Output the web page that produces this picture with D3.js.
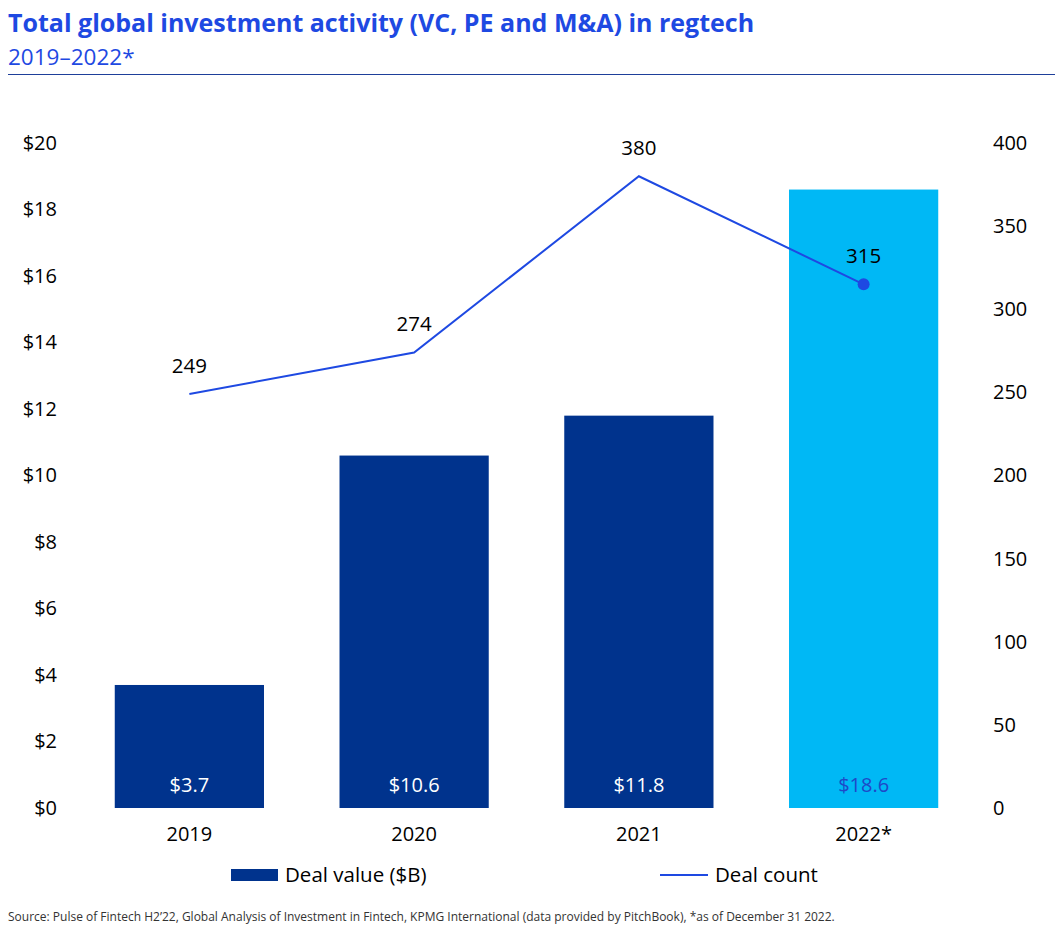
<!DOCTYPE html>
<html><head><meta charset="utf-8">
<script src="https://cdn.jsdelivr.net/npm/d3@7"></script>
<style>body{margin:0;background:#fff;font-family:"Open Sans",sans-serif;}</style>
</head><body><svg id="c" width="1062" height="935"></svg>
<script>
const years = ["2019","2020","2021","2022*"];
const dealValue = [3.7, 10.6, 11.8, 18.6];
const dealCount = [249, 274, 380, 315];
const leftTicks = [0,2,4,6,8,10,12,14,16,18,20];
const rightTicks = [0,50,100,150,200,250,300,350,400];

const svg = d3.select("#c");
const plotTop = 143, plotBottom = 808;
const x = d3.scaleBand().domain(years).range([77, 976]).paddingInner(0.336).paddingOuter(0.168);
const yL = d3.scaleLinear().domain([0,20]).range([plotBottom, plotTop]);
const yR = d3.scaleLinear().domain([0,400]).range([plotBottom, plotTop]);

svg.append("text").attr("x",8).attr("y",32).attr("fill","#1e49e2").attr("font-size",25).attr("font-weight",700).text("Total global investment activity (VC, PE and M&A) in regtech");
svg.append("text").attr("x",8).attr("y",65).attr("fill","#1e49e2").attr("font-size",22.5).text("2019–2022*");
svg.append("line").attr("x1",8).attr("x2",1055).attr("y1",74.5).attr("y2",74.5).attr("stroke","#1e3f9a").attr("stroke-width",1);

// left axis
const gL = svg.append("g").attr("transform","translate(57,0)")
  .call(d3.axisLeft(yL).tickValues(leftTicks).tickSize(0).tickPadding(0).tickFormat(d=>"$"+d));
gL.select(".domain").remove();
gL.selectAll("text").attr("font-size",20).attr("font-family","Open Sans").attr("fill","#000");
const gR = svg.append("g").attr("transform","translate(993,0)")
  .call(d3.axisRight(yR).tickValues(rightTicks).tickSize(0).tickPadding(0));
gR.select(".domain").remove();
gR.selectAll("text").attr("font-size",20).attr("font-family","Open Sans").attr("fill","#000");

// bars
svg.selectAll("rect.bar").data(years).enter().append("rect").attr("class","bar")
  .attr("x",d=>x(d)).attr("width",x.bandwidth())
  .attr("y",(d,i)=>yL(dealValue[i])).attr("height",(d,i)=>plotBottom-yL(dealValue[i]))
  .attr("fill",(d,i)=>i===3?"#00b8f5":"#00338d");
svg.selectAll("text.bv").data(years).enter().append("text").attr("class","bv")
  .attr("x",d=>x(d)+x.bandwidth()/2).attr("y",792).attr("text-anchor","middle")
  .attr("font-size",20).attr("fill",(d,i)=>i===3?"#1e49c8":"#fff")
  .text((d,i)=>"$"+dealValue[i].toFixed(1));

// x axis
const gX = svg.append("g").attr("transform",`translate(0,${plotBottom})`)
  .call(d3.axisBottom(x).tickSize(0).tickPadding(19));
gX.select(".domain").remove();
gX.selectAll("text").attr("font-size",20).attr("font-family","Open Sans").attr("fill","#000");

// line
const line = d3.line().x((d,i)=>x(years[i])+x.bandwidth()/2).y(d=>yR(d));
svg.append("path").datum(dealCount).attr("d",line).attr("fill","none").attr("stroke","#1e49e2").attr("stroke-width",2);
svg.append("circle").attr("cx",x(years[3])+x.bandwidth()/2).attr("cy",yR(dealCount[3])).attr("r",6).attr("fill","#1e49e2");
svg.selectAll("text.lc").data(dealCount).enter().append("text").attr("class","lc")
  .attr("x",(d,i)=>x(years[i])+x.bandwidth()/2).attr("y",d=>yR(d)-21).attr("text-anchor","middle")
  .attr("font-size",20.5).attr("fill","#000").text(d=>d);

// legend
svg.append("rect").attr("x",231).attr("y",869).attr("width",47).attr("height",12).attr("fill","#00338d");
svg.append("text").attr("x",285).attr("y",882).attr("font-size",20.5).text("Deal value ($B)");
svg.append("line").attr("x1",660).attr("x2",708).attr("y1",875).attr("y2",875).attr("stroke","#1e49e2").attr("stroke-width",2);
svg.append("text").attr("x",715).attr("y",882).attr("font-size",20.5).text("Deal count");

svg.append("text").attr("x",8).attr("y",921).attr("font-size",12).attr("fill","#333")
  .text("Source: Pulse of Fintech H2’22, Global Analysis of Investment in Fintech, KPMG International (data provided by PitchBook), *as of December 31 2022.");
</script></body></html>
